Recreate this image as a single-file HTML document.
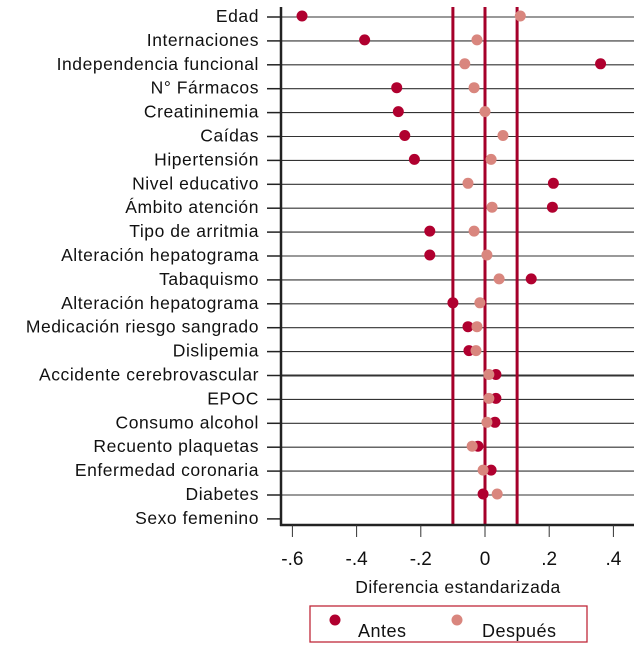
<!DOCTYPE html>
<html><head><meta charset="utf-8"><style>
html,body{margin:0;padding:0;background:#fff;}
svg{display:block;font-family:"Liberation Sans",sans-serif;}
</style></head><body>
<svg id="chart" width="641" height="650" viewBox="0 0 641 650" xmlns="http://www.w3.org/2000/svg"></svg>
<script>
const categories=["Edad","Internaciones","Independencia funcional","N° Fármacos","Creatininemia","Caídas","Hipertensión","Nivel educativo","Ámbito atención","Tipo de arritmia","Alteración hepatograma","Tabaquismo","Alteración hepatograma","Medicación riesgo sangrado","Dislipemia","Accidente cerebrovascular","EPOC","Consumo alcohol","Recuento plaquetas","Enfermedad coronaria","Diabetes","Sexo femenino"];
const antes=[-0.57,-0.375,0.36,-0.275,-0.27,-0.25,-0.22,0.213,0.21,-0.172,-0.172,0.144,-0.1,-0.053,-0.05,0.034,0.034,0.031,-0.022,0.019,-0.006,null];
const despues=[0.11,-0.025,-0.063,-0.034,0,0.056,0.019,-0.053,0.022,-0.034,0.006,0.044,-0.016,-0.025,-0.028,0.012,0.012,0.006,-0.04,-0.006,0.038,null];
const xTicks=[-0.6,-0.4,-0.2,0,0.2,0.4];
const xTickLabels=["-.6","-.4","-.2","0",".2",".4"];
const refLines=[-0.1,0,0.1];

const NS="http://www.w3.org/2000/svg";
const svg=document.getElementById("chart");
const X0=485, SC=321;
function xs(v){return X0+v*SC;}
function ys(i){return 16+i*23.9;}
function el(tag,attrs,parent){const e=document.createElementNS(NS,tag);for(const k in attrs)e.setAttribute(k,attrs[k]);(parent||svg).appendChild(e);return e;}

categories.forEach((c,i)=>{
  const y=ys(i);
  if(i<categories.length-1){
    const g=el("line",{x1:281,x2:634,y1:y+1,y2:y+1,stroke:"#333","stroke-width":i===15?2:1.1});
    
    
  }
  const t=el("line",{x1:267,x2:281,y1:y+1,y2:y+1,stroke:"#222","stroke-width":1.5});
  
  
  const tx=el("text",{x:259,y:y+6,"text-anchor":"end","font-size":17.5,"letter-spacing":"0.55",fill:"#111"});
  tx.textContent=c;
  
  
});
refLines.forEach(v=>{
  const l=el("line",{x1:xs(v),x2:xs(v),y1:7,y2:525,stroke:"#a5002a","stroke-width":3});
  
  
});
const ya=el("line",{x1:281,x2:281,y1:7,y2:526,stroke:"#222","stroke-width":2.5});


const xa=el("line",{x1:280,x2:634,y1:525,y2:525,stroke:"#222","stroke-width":2.5});


xTicks.forEach((v,i)=>{
  const t=el("line",{x1:xs(v),x2:xs(v),y1:525,y2:537,stroke:"#333","stroke-width":1});
  
  
  const tx=el("text",{x:xs(v),y:565,"text-anchor":"middle","font-size":19,fill:"#111"});
  tx.textContent=xTickLabels[i];
  
  
});
const title=el("text",{x:458,y:593,"text-anchor":"middle","font-size":17.5,"letter-spacing":"0.5",fill:"#111"});
title.textContent="Diferencia estandarizada";


antes.forEach((v,i)=>{
  if(v===null)return;
  const c=el("circle",{cx:xs(v),cy:ys(i),r:5.5,fill:"#b0002f"});
  
  
});
despues.forEach((v,i)=>{
  if(v===null)return;
  const c=el("circle",{cx:xs(v),cy:ys(i),r:5.5,fill:"#d9867e"});
  
  
});
const lg=el("g",{});


el("rect",{x:310,y:606,width:277,height:36,fill:"none",stroke:"#c0283a","stroke-width":1.3},lg);
const l1=el("circle",{cx:335,cy:620,r:5.5,fill:"#b0002f"},lg);


const t1=el("text",{x:358,y:637,"font-size":18,"letter-spacing":"0.5",fill:"#111"},lg);
t1.textContent="Antes";


const l2=el("circle",{cx:457,cy:620,r:5.5,fill:"#d9867e"},lg);


const t2=el("text",{x:482,y:637,"font-size":18,"letter-spacing":"0.5",fill:"#111"},lg);
t2.textContent="Después";


</script>
</body></html>
